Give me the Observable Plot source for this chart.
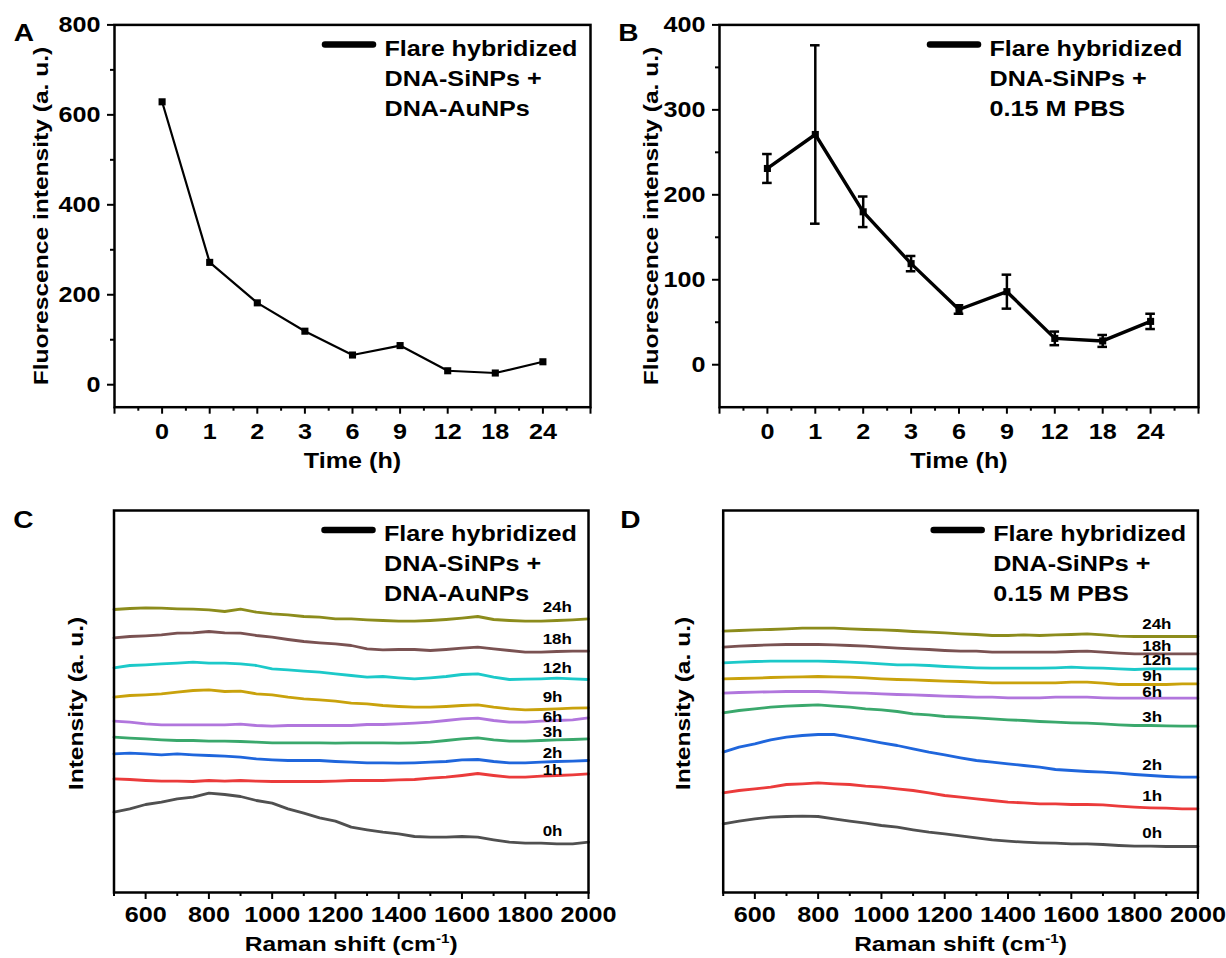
<!DOCTYPE html>
<html><head><meta charset="utf-8">
<script src="https://cdn.jsdelivr.net/npm/d3@7"></script>
<script src="https://cdn.jsdelivr.net/npm/@observablehq/plot@0.6"></script>
<style>
body{margin:0;background:#fff;}
#fig{position:relative;width:1226px;height:958px;overflow:hidden;background:#fff;}
.panel{position:absolute;}
</style></head><body><div id="fig"></div>
<script>
// ---------- data ----------
const timeLabels = ["0","1","2","3","6","9","12","18","24"];
const fluorA = [629, 272, 182, 119, 66, 87, 31, 26, 51];
const fluorB = [231, 271, 180, 119, 65, 86, 31, 28, 51];
const errB   = [17, 105, 18, 9, 5, 20, 8, 7, 9];

const legendA = ["Flare hybridized", "DNA-SiNPs +", "DNA-AuNPs"];
const legendB = ["Flare hybridized", "DNA-SiNPs +", "0.15 M PBS"];

const ramanShift = [500,550,600,650,700,750,800,850,900,950,1000,1050,1100,1150,1200,1250,1300,1350,1400,1450,1500,1550,1600,1650,1700,1750,1800,1850,1900,1950,2000];
const seriesNames = ["0h","1h","2h","3h","6h","9h","12h","18h","24h"];

const c0h  = [241,251,264,271,281,286,298,294,288,276,268,251,238,224,214,196,188,181,176,168,166,166,168,166,158,151,148,148,146,146,151];
const c1h  = [341,339,336,334,334,333,336,334,336,334,333,333,333,333,334,336,336,336,338,339,343,346,351,357,351,346,346,349,351,353,356];
const c2h  = [416,418,416,413,416,413,411,409,406,401,398,396,396,396,393,391,389,389,388,389,391,393,398,399,393,389,389,391,393,394,396];
const c3h  = [466,463,461,458,456,456,454,454,453,451,449,449,449,449,448,449,449,449,448,449,451,456,461,464,458,454,454,456,458,459,461];
const c6h  = [514,511,506,503,503,503,503,503,505,501,499,501,501,501,501,501,504,504,506,508,511,516,521,523,516,511,511,514,516,518,524];
const c9h  = [586,591,593,596,601,606,608,603,604,596,593,586,581,578,574,568,566,561,558,556,556,558,561,563,556,551,548,549,551,553,554];
const c12h = [674,681,683,686,688,691,688,688,686,681,671,668,664,661,656,651,646,648,644,641,644,648,654,656,646,639,640,641,643,641,639];
const c18h = [764,768,770,773,778,779,783,779,778,771,766,759,753,749,746,741,731,728,729,729,726,729,733,736,731,726,721,721,723,724,724];
const c24h = [849,852,854,853,851,850,848,843,850,841,836,833,828,826,821,821,818,816,814,814,816,819,823,828,819,816,814,814,816,818,821];

const d0h  = [206,214,221,226,228,229,228,221,214,208,201,196,188,181,176,170,164,158,154,151,149,148,146,146,144,141,139,139,138,138,138];
const d1h  = [299,306,311,316,324,326,329,326,324,319,316,311,306,299,291,286,281,276,271,269,266,266,264,264,263,259,256,254,253,251,251];
const d2h  = [421,436,446,458,466,471,474,474,466,458,449,441,431,421,413,404,396,391,386,381,376,369,366,363,361,358,354,351,348,346,346];
const d3h  = [539,546,551,556,559,561,563,559,556,551,548,543,536,533,528,526,524,521,518,516,513,511,509,508,506,503,501,501,500,499,499];
const d6h  = [598,600,601,602,603,603,603,601,599,598,596,594,593,591,589,588,586,586,584,584,584,586,586,586,584,583,583,583,583,583,583];
const d9h  = [641,642,643,645,646,647,648,647,646,644,641,639,638,636,634,633,631,629,629,629,629,629,631,631,628,624,624,624,624,626,626];
const d12h = [689,691,693,694,694,694,694,693,691,689,686,683,683,681,678,676,674,673,673,673,673,674,676,674,673,671,669,671,671,671,671];
const d18h = [736,739,741,743,744,744,744,743,741,739,736,733,731,729,726,724,724,721,721,721,721,721,723,724,721,718,716,716,716,716,716];
const d24h = [784,786,788,789,791,793,793,793,791,789,788,786,783,781,779,776,774,771,771,773,771,773,774,776,773,769,768,768,768,768,768];

const seriesColors = ["#505050","#eb3b3b","#1f66dc","#3aa86c","#b176dd","#c9a20c","#1cc9c9","#7a5252","#8c8c1c"];

// annotation anchors (data units) for the curve labels
const labelAnchorC = {x: 1855, y: [184, 366, 418, 479, 526, 584, 671, 759, 856]};
const labelAnchorD = {x: 1824, y: [176, 288, 381, 526, 601, 649, 696, 739, 803]};

// ---------- helpers ----------
const FONT = "'Liberation Sans', Arial, Helvetica, sans-serif";
const FS = 21.5;
const FIG = document.getElementById("fig");

function place(node, left, top) {
  const d = document.createElement("div");
  d.className = "panel";
  d.style.left = left + "px";
  d.style.top = top + "px";
  d.appendChild(node);
  FIG.appendChild(d);
  return node;
}

function addLegendLine(svg, mL, mT) {
  d3.select(svg).append("line")
    .attr("x1", mL + 211).attr("x2", mL + 259)
    .attr("y1", mT + 20).attr("y2", mT + 20)
    .attr("stroke", "black").attr("stroke-width", 6.5).attr("stroke-linecap", "round");
}

function legendMarks(lines) {
  return lines.map((s, k) => Plot.text([s], {
    text: d => d, frameAnchor: "top-left", dx: 270, dy: 24 + 30 * k,
    textAnchor: "start", lineAnchor: "middle", fontSize: FS, fontWeight: "bold", fill: "black"
  }));
}

function timePanel(o) {
  const W = 613, H = 480, mT = 24.4, mB = H - 406.7;
  const data = timeLabels.map((t, i) => ({i, t, v: o.values[i], e: o.errors ? o.errors[i] : 0}));
  const marks = [
    Plot.axisX({ticks: d3.range(-1, 10), tickSize: 7, strokeWidth: 2, tickPadding: 10,
      tickFormat: i => timeLabels[i] ?? "", fontSize: FS, fontWeight: "bold", label: null}),
    Plot.axisX({ticks: d3.range(-0.5, 9, 1), tickSize: 4, strokeWidth: 2, tickFormat: () => "", label: null}),
    Plot.axisY({ticks: o.yMajor, tickSize: 7, strokeWidth: 2, tickPadding: 7, tickFormat: d => String(d),
      fontSize: FS, fontWeight: "bold", label: null}),
    Plot.axisY({ticks: o.yMinor, tickSize: 4, strokeWidth: 2, tickFormat: () => "", label: null}),
  ];
  if (o.errors) {
    marks.push(
      Plot.ruleX(data, {x: "i", y1: d => d.v - d.e, y2: d => d.v + d.e, stroke: "black", strokeWidth: 2.5}),
      Plot.ruleY(data, {y: d => d.v + d.e, x1: d => d.i - 0.1, x2: d => d.i + 0.1, stroke: "black", strokeWidth: 2.5}),
      Plot.ruleY(data, {y: d => d.v - d.e, x1: d => d.i - 0.1, x2: d => d.i + 0.1, stroke: "black", strokeWidth: 2.5})
    );
  }
  marks.push(
    Plot.line(data, {x: "i", y: "v", stroke: "black", strokeWidth: o.lineWidth}),
    Plot.dot(data, {x: "i", y: "v", symbol: "square", r: 4, fill: "black", stroke: "none"}),
    Plot.frame({stroke: "black", strokeWidth: 2.5}),
    ...legendMarks(o.legend),
    Plot.text(["Fluorescence intensity (a. u.)"], {text: d => d, frameAnchor: "left", dx: o.yTitleDx, dy: 0,
      rotate: -90, lineAnchor: "middle", textAnchor: "middle", fontSize: 21, fontWeight: "bold", fill: "black"}),
    Plot.text(["Time (h)"], {text: d => d, frameAnchor: "bottom", dy: 54, lineAnchor: "middle",
      fontSize: FS, fontWeight: "bold", fill: "black"}),
    Plot.text([o.letter], {text: d => d, frameAnchor: "top-left", dx: o.letterDx, dy: 8.5,
      lineAnchor: "middle", textAnchor: "middle", fontSize: 24, fontWeight: "bold", fill: "black"})
  );
  const svg = Plot.plot({
    width: W, height: H, marginLeft: o.left, marginRight: o.right, marginTop: mT, marginBottom: mB,
    x: {domain: [-1, 9]}, y: {domain: o.yDomain},
    style: {fontFamily: FONT, color: "black", background: "transparent", overflow: "visible"},
    marks
  });
  addLegendLine(svg, o.left, mT);
  return svg;
}

function ramanPanel(o) {
  const W = 613, H = 478, mT = 30, mB = H - 412;
  const rows = [];
  seriesNames.forEach((s, k) => ramanShift.forEach((x, j) => rows.push({s, x, y: o.series[k][j]})));
  const labels = seriesNames.map((s, k) => ({s, y: o.anchor.y[k]}));
  const marks = [
    Plot.axisX({ticks: [600,800,1000,1200,1400,1600,1800,2000], tickSize: 7, strokeWidth: 2, tickPadding: 7,
      tickFormat: d => String(d), fontSize: FS, fontWeight: "bold", label: null}),
    Plot.axisX({ticks: [500,700,900,1100,1300,1500,1700,1900], tickSize: 4, strokeWidth: 2, tickFormat: () => "", label: null}),
    Plot.line(rows, {x: "x", y: "y", z: "s", stroke: "s", strokeWidth: 2.8}),
    Plot.text(labels, {x: o.anchor.x, y: "y", text: "s", textAnchor: "start", lineAnchor: "middle",
      fontSize: 14.5, fontWeight: "bold", fill: "black"}),
    Plot.frame({stroke: "black", strokeWidth: 2.5}),
    ...legendMarks(o.legend),
    Plot.text(["Intensity (a. u.)"], {text: d => d, frameAnchor: "left", dx: o.yTitleDx, dy: 2,
      rotate: -90, lineAnchor: "middle", textAnchor: "middle", fontSize: 21, fontWeight: "bold", fill: "black"}),
    Plot.text(["Raman shift (cm-1)"], {text: d => d, frameAnchor: "bottom", dy: 51.5, lineAnchor: "middle",
      fontSize: 21, fontWeight: "bold", fill: "black"}),
    Plot.text([o.letter], {text: d => d, frameAnchor: "top-left", dx: o.letterDx, dy: 10,
      lineAnchor: "middle", textAnchor: "middle", fontSize: 24, fontWeight: "bold", fill: "black"})
  ];
  const svg = Plot.plot({
    width: W, height: H, marginLeft: o.left, marginRight: o.right, marginTop: mT, marginBottom: mB,
    x: {domain: [500, 2000]}, y: {domain: [0, 1146], axis: null},
    color: {domain: seriesNames, range: seriesColors},
    style: {fontFamily: FONT, color: "black", background: "transparent", overflow: "visible"},
    marks
  });
  addLegendLine(svg, o.left, mT);
  d3.select(svg).selectAll("text").filter(function() { return this.textContent === "Raman shift (cm-1)"; })
    .each(function() {
      const t = d3.select(this);
      t.text("Raman shift (cm");
      t.append("tspan").attr("dy", -8).attr("font-size", 13).text("-1");
      t.append("tspan").attr("dy", 8).text(")");
    });
  return svg;
}

place(timePanel({values: fluorA, yDomain: [-50, 800], yMajor: [0,200,400,600,800], yMinor: [100,300,500,700],
  left: 114, right: 613 - 590, legend: legendA, letter: "A", letterDx: -90.5, yTitleDx: -73, lineWidth: 2.2}), 0, 0);
place(timePanel({values: fluorB, errors: errB, yDomain: [-50, 400], yMajor: [0,100,200,300,400], yMinor: [50,150,250,350],
  left: 106, right: 28, legend: legendB, letter: "B", letterDx: -91, yTitleDx: -68, lineWidth: 3.4}), 613, 0);
place(ramanPanel({series: [c0h,c1h,c2h,c3h,c6h,c9h,c12h,c18h,c24h], anchor: labelAnchorC,
  left: 113.5, right: 25, legend: legendA, letter: "C", letterDx: -90.5, yTitleDx: -37.5}), 0, 480);
place(ramanPanel({series: [d0h,d1h,d2h,d3h,d6h,d9h,d12h,d18h,d24h], anchor: labelAnchorD,
  left: 109.7, right: 28.6, legend: legendB, letter: "D", letterDx: -92.7, yTitleDx: -39.7}), 613, 480);

// widen glyphs slightly to match the reference typeface
FIG.querySelectorAll("text").forEach(t => {
  const L = t.getComputedTextLength();
  if (L > 0) {
    t.setAttribute("textLength", (L * 1.17).toFixed(2));
    t.setAttribute("lengthAdjust", "spacingAndGlyphs");
  }
});
</script>
</body></html>
